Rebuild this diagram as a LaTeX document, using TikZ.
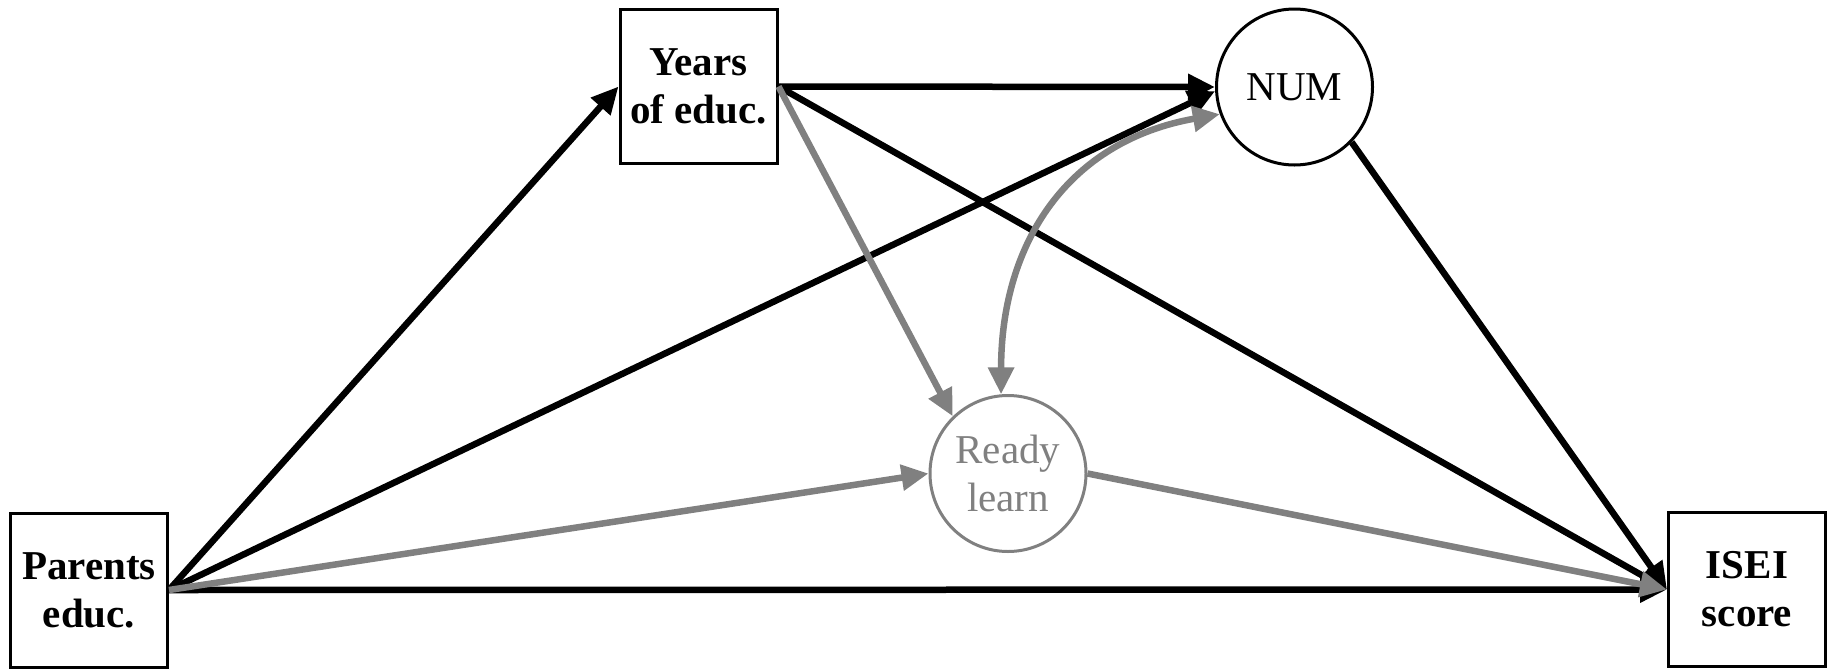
\documentclass[tikz,border=0pt]{standalone}
\usepackage{fontspec}
\setmainfont{Liberation Serif}
\usetikzlibrary{arrows.meta}
\definecolor{grayc}{RGB}{128,128,128}
\begin{document}
\begin{tikzpicture}[x=0.5pt,y=-0.5pt,
 box/.style={draw, fill=white, line width=1.5pt, minimum width=78.5pt, minimum height=77pt, inner sep=0pt, align=center, font=\fontsize{20.5}{24}\selectfont\bfseries},
 lat/.style={circle, draw, fill=white, line width=1.5pt, minimum size=78pt, inner sep=0pt, align=center, font=\fontsize{20.5}{24}\selectfont},
 blk/.style={line width=3.25pt, -{Triangle[length=13.5pt,width=12.5pt]}},
 gry/.style={line width=3.25pt, draw=grayc, -{Triangle[length=13.5pt,width=12.5pt]}}]
\useasboundingbox (0,0) rectangle (1827,670);
\node[box] (par) at (89,590) {Parents\\educ.};
\node[box] (yrs) at (698.5,86.5) {Years\\of educ.};
\node[box] (isei) at (1747,589.5) {ISEI\\score};
\node[lat] (num) at (1294.5,87) {NUM};
\node[lat, draw=grayc, text=grayc] (rdy) at (1008,473.5) {Ready\\learn};
% black paths
\draw[blk] (par.east) -- (yrs.west);
\draw[blk] (yrs.east) -- (num.west);
\draw[blk] (yrs.east) -- (isei.west);
\draw[blk] (par.east) -- (num.183);
\draw[blk] (par.east) -- (isei.west);
\draw[blk] (num.-44) -- (isei.west);
% gray paths
\draw[gry] (yrs.east) -- (rdy.134);
\draw[gry] (par.east) -- (rdy.west);
\draw[gry] (rdy.east) -- (isei.west);
\draw[gry, {Triangle[length=13.5pt,width=12.5pt]}-{Triangle[length=13.5pt,width=12.5pt]}]
  (rdy.95) to[out=90, in=190, looseness=1.1] (num.200);
\end{tikzpicture}
\end{document}
